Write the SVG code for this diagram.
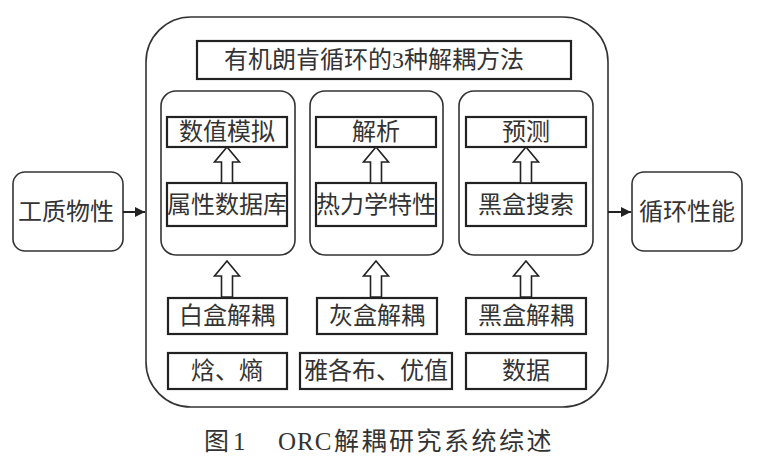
<svg xmlns="http://www.w3.org/2000/svg" width="763" height="464" viewBox="0 0 763 464">
<style>
.t{font-family:"Liberation Serif","Noto Sans CJK SC",serif;font-size:24px;fill:#333;text-anchor:middle;dominant-baseline:central}
.cap{font-family:"Liberation Serif","Noto Sans CJK SC",serif;font-size:25px;fill:#333;dominant-baseline:central}
.box{fill:#fff;stroke:#222;stroke-width:2.2}
.rb{fill:#fff;stroke:#333;stroke-width:1.6}
.ba{fill:#fff;stroke:#222;stroke-width:1.6;stroke-linejoin:miter}
.ln{stroke:#222;stroke-width:2;fill:none}
</style>
<defs>
<marker id="ah" viewBox="0 0 10 10" refX="10" refY="5" markerWidth="5" markerHeight="5" orient="auto" markerUnits="strokeWidth">
<path d="M0,0 L10,5 L0,10 z" fill="#222"/>
</marker>
<path id="barrow" d="M-5.5,0 L-5.5,-21 L-12.5,-21 L0,-36 L12.5,-21 L5.5,-21 L5.5,0 Z"/>
</defs>
<rect width="763" height="464" fill="#fff"/>

<g id="outer"><rect class="rb" x="146" y="17" width="462" height="390" rx="45"/></g>

<g id="title"><rect class="box" x="197" y="41" width="374" height="38"/><text class="t" x="374" y="60">有机朗肯循环的3种解耦方法</text></g>

<g id="panel1"><rect class="rb" x="161" y="91" width="134" height="164" rx="15"/></g>
<g id="panel2"><rect class="rb" x="310" y="91" width="133" height="164" rx="15"/></g>
<g id="panel3"><rect class="rb" x="459" y="91" width="134" height="164" rx="15"/></g>

<g id="n-shuzhi"><rect class="box" x="167" y="117" width="120" height="30"/><text class="t" x="227" y="132">数值模拟</text></g>
<g id="n-shuxing"><rect class="box" x="167" y="183" width="120" height="43"/><text class="t" x="227" y="205">属性数据库</text></g>
<g id="n-jiexi"><rect class="box" x="316" y="117" width="120" height="30"/><text class="t" x="376" y="132">解析</text></g>
<g id="n-relixue"><rect class="box" x="316" y="183" width="120" height="43"/><text class="t" x="376" y="205">热力学特性</text></g>
<g id="n-yuce"><rect class="box" x="466" y="117" width="120" height="30"/><text class="t" x="526" y="132">预测</text></g>
<g id="n-heihesousuo"><rect class="box" x="466" y="183" width="120" height="43"/><text class="t" x="526" y="205">黑盒搜索</text></g>

<g id="n-baihe"><rect class="box" x="168" y="298" width="119" height="36"/><text class="t" x="227" y="316">白盒解耦</text></g>
<g id="n-huihe"><rect class="box" x="317" y="298" width="120" height="36"/><text class="t" x="377" y="316">灰盒解耦</text></g>
<g id="n-heihe"><rect class="box" x="466" y="298" width="120" height="36"/><text class="t" x="526" y="316">黑盒解耦</text></g>

<g id="n-han"><rect class="box" x="168" y="353" width="119" height="36"/><text class="t" x="227" y="371">焓、熵</text></g>
<g id="n-yage"><rect class="box" x="300" y="353" width="152" height="36"/><text class="t" x="376" y="371">雅各布、优值</text></g>
<g id="n-shuju"><rect class="box" x="466" y="353" width="120" height="36"/><text class="t" x="526" y="371">数据</text></g>

<g id="n-gongzhi"><rect class="rb" x="13" y="172" width="110" height="79" rx="12"/><text class="t" x="66" y="212">工质物性</text></g>
<g id="n-xunhuan"><rect class="rb" x="632" y="172" width="110" height="79" rx="12"/><text class="t" x="687" y="212">循环性能</text></g>

<g id="connectors">
<use href="#barrow" class="ba" x="227" y="183"/>
<use href="#barrow" class="ba" x="376" y="183"/>
<use href="#barrow" class="ba" x="526" y="183"/>
<use href="#barrow" class="ba" x="227" y="297"/>
<use href="#barrow" class="ba" x="376" y="297"/>
<use href="#barrow" class="ba" x="526" y="297"/>
<line class="ln" x1="123" y1="212" x2="145" y2="212" marker-end="url(#ah)"/>
<line class="ln" x1="608" y1="212" x2="631" y2="212" marker-end="url(#ah)"/>
</g>

<g id="caption"><text class="cap" y="441"><tspan x="204">图</tspan><tspan x="233">1</tspan><tspan x="278" letter-spacing="1">ORC</tspan><tspan x="334" letter-spacing="2.5">解耦研究系统综述</tspan></text></g>
</svg>
